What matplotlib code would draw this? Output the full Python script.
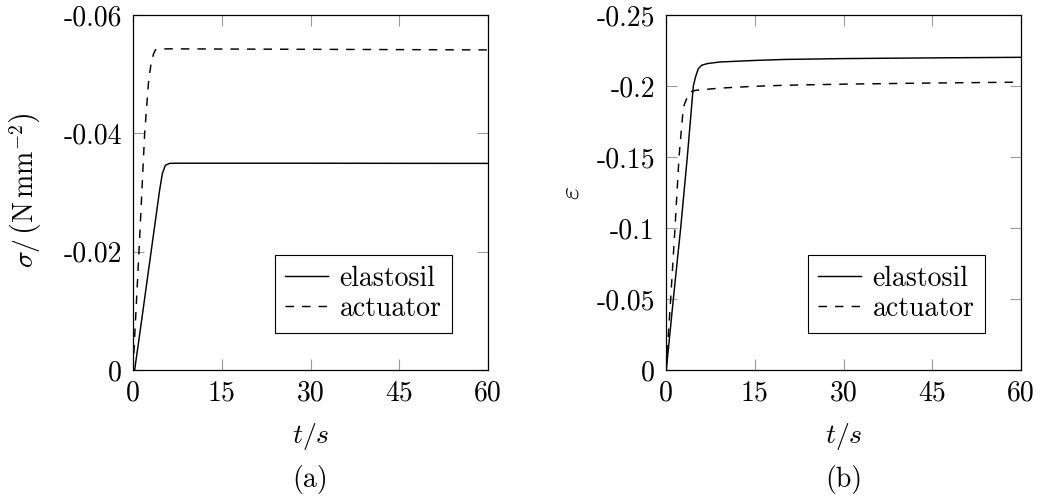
import matplotlib
matplotlib.use("Agg")
import matplotlib.pyplot as plt
import numpy as np

# ---------------- data ----------------
# (a) stress sigma in N/mm^2 over time t in s
t_stress_elastosil = [0.0, 0.28, 1.5, 3.06, 4.5, 4.96, 5.47, 6.2, 8.0, 15, 30, 45, 60]
stress_elastosil = [0.0, 0.0, -0.0087, -0.0200, -0.0304, -0.0332, -0.0346, -0.03493,
                    -0.03495, -0.03495, -0.03495, -0.03493, -0.03492]
t_stress_actuator = [0.0, 1.01, 1.97, 2.65, 3.1, 3.5, 3.78, 4.2, 6, 15, 30, 45, 60]
stress_actuator = [0.0, -0.0200, -0.0400, -0.0490, -0.0521, -0.0535, -0.0541, -0.05425,
                   -0.05428, -0.05425, -0.05420, -0.05415, -0.05410]

# (b) strain epsilon over time t in s
t_strain_elastosil = [0.0, 0.05, 1.24, 2.48, 3.6, 4.62, 5.0, 5.46, 6.03, 7.0, 9.1, 15, 20, 30, 45, 60]
strain_elastosil = [0.0, 0.0, -0.050, -0.100, -0.150, -0.200, -0.2065, -0.2122, -0.2146,
                    -0.2158, -0.2169, -0.2180, -0.2187, -0.2193, -0.2198, -0.2202]
t_strain_actuator = [0.0, 0.79, 1.52, 2.2, 2.93, 3.38, 4.06, 5.07, 9.1, 15, 20, 30, 45, 60]
strain_actuator = [0.0, -0.050, -0.100, -0.150, -0.185, -0.190, -0.1958, -0.1970,
                   -0.1985, -0.1998, -0.2005, -0.2013, -0.2021, -0.2027]

x_ticks = [0, 15, 30, 45, 60]
x_ticklabels = ["0", "15", "30", "45", "60"]
y_ticks_a = [0, -0.02, -0.04, -0.06]
y_ticklabels_a = ["0", "-0.02", "-0.04", "-0.06"]
y_ticks_b = [0, -0.05, -0.1, -0.15, -0.2, -0.25]
y_ticklabels_b = ["0", "-0.05", "-0.1", "-0.15", "-0.2", "-0.25"]
series_labels = ["elastosil", "actuator"]

# ---------------- style ----------------
plt.rcParams["font.family"] = ["cmr10", "DejaVu Sans"]
plt.rcParams["mathtext.fontset"] = "cm"
plt.rcParams["axes.unicode_minus"] = False
plt.rcParams["lines.scale_dashes"] = False
FS = 20

W, H = 1040, 501
fig = plt.figure(figsize=(W / 100, H / 100), dpi=100)

def px_axes(x0, x1, y0, y1):
    return fig.add_axes([x0 / W, 1 - y1 / H, (x1 - x0) / W, (y1 - y0) / H])

ax_a = px_axes(133, 488, 15, 370)
ax_b = px_axes(666, 1021, 15, 370)

dash = (6.1, 5.8)

def setup(ax, yticks, yticklabels, ylim):
    ax.set_xlim(0, 60)
    ax.set_ylim(*ylim)
    ax.set_xticks(x_ticks)
    ax.set_xticklabels(x_ticklabels)
    ax.set_yticks(yticks)
    ax.set_yticklabels(yticklabels)
    ax.tick_params(direction="in", length=8, width=0.8, color="#9a9a9a",
                   top=True, right=True, labelsize=FS)
    ax.tick_params(axis="y", pad=8)
    ax.tick_params(axis="x", pad=7)
    for s in ax.spines.values():
        s.set_linewidth(0.9)
        s.set_color("black")
        s.set_zorder(5)

# (a)
ax_a.plot(t_stress_elastosil, stress_elastosil, color="black", lw=1.05, label=series_labels[0])
ax_a.plot(t_stress_actuator, stress_actuator, color="black", lw=1.05, dashes=dash,
          label=series_labels[1])
setup(ax_a, y_ticks_a, y_ticklabels_a, (0, -0.06))

# (b)
ax_b.plot(t_strain_elastosil, strain_elastosil, color="black", lw=1.05, label=series_labels[0])
ax_b.plot(t_strain_actuator, strain_actuator, color="black", lw=1.05, dashes=dash,
          label=series_labels[1])
setup(ax_b, y_ticks_b, y_ticklabels_b, (0, -0.25))

for ax in (ax_a, ax_b):
    leg = ax.legend(loc="upper right", bbox_to_anchor=(0.8986, 0.3248),
                    borderaxespad=0, fontsize=FS, fancybox=False, framealpha=1,
                    edgecolor="black", handlelength=1.55, handletextpad=0.4,
                    borderpad=0.38, labelspacing=0.15)
    leg.get_frame().set_linewidth(0.8)

# labels
fig.text(310.5 / W, 1 - 436 / H, r"$t/s$", ha="center", va="center", fontsize=FS)
fig.text(843.5 / W, 1 - 436 / H, r"$t/s$", ha="center", va="center", fontsize=FS)
fig.text(310.5 / W, 1 - 479 / H, "(a)", ha="center", va="center", fontsize=FS)
fig.text(843.5 / W, 1 - 479 / H, "(b)", ha="center", va="center", fontsize=FS)
fig.text(25 / W, 1 - 190 / H, r"$\sigma/\,\left(\mathrm{N\,mm}^{-2}_{\,}\right)$",
         ha="center", va="center", rotation=90, fontsize=FS)
fig.text(571 / W, 1 - 193 / H, r"$\varepsilon$", ha="center", va="center",
         rotation=90, fontsize=FS)

fig.savefig("out.png", dpi=100)
